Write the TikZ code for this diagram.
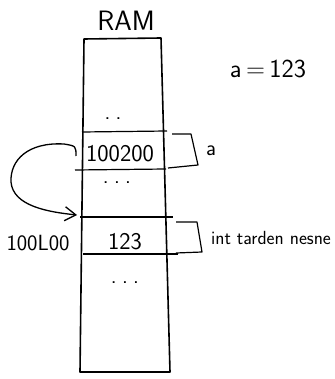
\documentclass[tikz,border=0pt]{standalone}
\usetikzlibrary{arrows.meta}
\begin{document}
\begin{tikzpicture}[x=1pt,y=-1pt,
  outer/.style={line width=1.6pt,line join=round},
  inner/.style={line width=1.2pt},
  brace/.style={line width=1.2pt,line join=round},
  lbl/.style={font=\sffamily\fontsize{22}{22}\selectfont,inner sep=0pt},
  dots/.style={font=\sffamily\bfseries\fontsize{14}{14}\selectfont,inner sep=0pt}]
\useasboundingbox (0,0) rectangle (334,379);
% RAM column
\draw[outer] (84,39) -- (161,38) -- (170,372) -- (80,372) -- cycle;
\draw[inner] (82,132) -- (167,131);
\draw[inner] (75,170) -- (166,169);
\draw[inner] (80,217) -- (173,217);
\draw[inner] (83,254) -- (178,254);
% labels
\node[lbl,font=\sffamily\fontsize{28}{28}\selectfont] (ram) at (126,21) {RAM};
\node[lbl,font=\sffamily\fontsize{26}{26}\selectfont] (eq) at (268,69) {a\,=\,123};
\node[dots] (d1) at (113,119) {. .};
\node[lbl,font=\sffamily\fontsize{24}{24}\selectfont] (v1) at (120,154) {100200};
\node[dots] (d2) at (117,183) {. . .};
\node[lbl,font=\sffamily\fontsize{24}{24}\selectfont] (v2) at (125,242) {123};
\node[dots] (d3) at (125,283) {. . .};
\node[lbl] (addr) at (38,243) {100L00};
\node[lbl] (na) at (211,151) {a};
\node[lbl,font=\sffamily\fontsize{19}{19}\selectfont] (nb) at (271,238) {int tarden nesne};
% brackets
\draw[brace] (172,134) -- (191,134) -- (198,165) -- (168,168);
\draw[brace] (176,222) -- (197,222) -- (202,252) -- (176,253);
% arrow
\coordinate (astart) at (76,156);
\coordinate (aend) at (77,215);
\draw[line width=1.3pt,-{Straight Barb[length=11pt,width=14pt,line width=1.3pt]}]
  (astart) .. controls (76,146) .. (64,144)
  .. controls (28,142) and (10,160) .. (11,182)
  .. controls (13,206) and (48,212) .. (aend);
\end{tikzpicture}
\end{document}
